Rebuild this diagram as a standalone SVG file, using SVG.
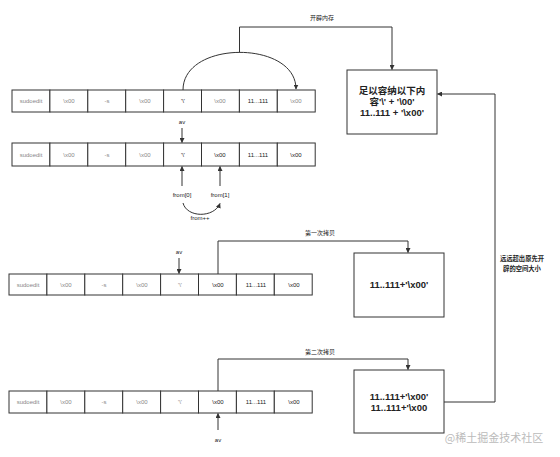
<svg xmlns="http://www.w3.org/2000/svg" width="560" height="457" viewBox="0 0 560 457">
<defs>
<style>
.cell{fill:#fff;stroke:#333;stroke-width:1}
.box{fill:#fff;stroke:#333;stroke-width:1}
.ln{fill:none;stroke:#333;stroke-width:1}
.t{font-family:"Liberation Sans","Noto Sans CJK SC",sans-serif;font-size:6px;text-anchor:middle;dominant-baseline:central;fill:#222}
.g{fill:#888}
.b{font-family:"Liberation Sans","Noto Sans CJK SC",sans-serif;font-size:9.5px;text-anchor:middle;dominant-baseline:central;fill:#222;font-weight:bold}
.s{font-family:"Liberation Sans","Noto Sans CJK SC",sans-serif;font-size:6px;text-anchor:middle;dominant-baseline:central;fill:#222}
.m{font-family:"Liberation Sans","Noto Sans CJK SC",sans-serif;font-size:6.3px;text-anchor:middle;dominant-baseline:central;fill:#222;font-weight:bold}
</style>
<marker id="ah" viewBox="0 0 10 10" refX="9" refY="5" markerWidth="5" markerHeight="5" orient="auto" markerUnits="userSpaceOnUse">
<path d="M0,0 L10,5 L0,10 z" fill="#333"/>
</marker>
</defs>
<rect width="560" height="457" fill="#fff"/>

<g id="row1">
<rect class="cell" x="12" y="90" width="37.9" height="22"/>
<rect class="cell" x="49.9" y="90" width="37.9" height="22"/>
<rect class="cell" x="87.8" y="90" width="37.9" height="22"/>
<rect class="cell" x="125.7" y="90" width="37.9" height="22"/>
<rect class="cell" x="163.6" y="90" width="37.9" height="22"/>
<rect class="cell" x="201.5" y="90" width="37.9" height="22"/>
<rect class="cell" x="239.4" y="90" width="37.9" height="22"/>
<rect class="cell" x="277.3" y="90" width="37.9" height="22"/>
<text class="t g" x="31" y="101">sudoedit</text>
<text class="t g" x="69" y="101">\x00</text>
<text class="t g" x="107" y="101">-s</text>
<text class="t g" x="145" y="101">\x00</text>
<text class="t" x="183" y="101">'\'</text>
<text class="t g" x="220" y="101">\x00</text>
<text class="t" x="258" y="101">11...111</text>
<text class="t g" x="296" y="101">\x00</text>
</g>

<g id="row2">
<rect class="cell" x="12" y="143" width="37.9" height="23"/>
<rect class="cell" x="49.9" y="143" width="37.9" height="23"/>
<rect class="cell" x="87.8" y="143" width="37.9" height="23"/>
<rect class="cell" x="125.7" y="143" width="37.9" height="23"/>
<rect class="cell" x="163.6" y="143" width="37.9" height="23"/>
<rect class="cell" x="201.5" y="143" width="37.9" height="23"/>
<rect class="cell" x="239.4" y="143" width="37.9" height="23"/>
<rect class="cell" x="277.3" y="143" width="37.9" height="23"/>
<text class="t g" x="31" y="154.5">sudoedit</text>
<text class="t g" x="69" y="154.5">\x00</text>
<text class="t g" x="107" y="154.5">-s</text>
<text class="t g" x="145" y="154.5">\x00</text>
<text class="t" x="183" y="154.5">'\'</text>
<text class="t" x="220" y="154.5">\x00</text>
<text class="t" x="258" y="154.5">11...111</text>
<text class="t" x="296" y="154.5">\x00</text>
</g>

<g id="row3">
<rect class="cell" x="9" y="274" width="37.9" height="21"/>
<rect class="cell" x="46.9" y="274" width="37.9" height="21"/>
<rect class="cell" x="84.8" y="274" width="37.9" height="21"/>
<rect class="cell" x="122.7" y="274" width="37.9" height="21"/>
<rect class="cell" x="160.6" y="274" width="37.9" height="21"/>
<rect class="cell" x="198.5" y="274" width="37.9" height="21"/>
<rect class="cell" x="236.4" y="274" width="37.9" height="21"/>
<rect class="cell" x="274.3" y="274" width="37.9" height="21"/>
<text class="t g" x="28" y="284.5">sudoedit</text>
<text class="t g" x="66" y="284.5">\x00</text>
<text class="t g" x="104" y="284.5">-s</text>
<text class="t g" x="142" y="284.5">\x00</text>
<text class="t g" x="180" y="284.5">'\'</text>
<text class="t" x="218" y="284.5">\x00</text>
<text class="t" x="256" y="284.5">11...111</text>
<text class="t" x="294" y="284.5">\x00</text>
</g>

<g id="row4">
<rect class="cell" x="9" y="391" width="37.9" height="22"/>
<rect class="cell" x="46.9" y="391" width="37.9" height="22"/>
<rect class="cell" x="84.8" y="391" width="37.9" height="22"/>
<rect class="cell" x="122.7" y="391" width="37.9" height="22"/>
<rect class="cell" x="160.6" y="391" width="37.9" height="22"/>
<rect class="cell" x="198.5" y="391" width="37.9" height="22"/>
<rect class="cell" x="236.4" y="391" width="37.9" height="22"/>
<rect class="cell" x="274.3" y="391" width="37.9" height="22"/>
<text class="t g" x="28" y="402">sudoedit</text>
<text class="t g" x="66" y="402">\x00</text>
<text class="t g" x="104" y="402">-s</text>
<text class="t g" x="142" y="402">\x00</text>
<text class="t g" x="180" y="402">'\'</text>
<text class="t" x="218" y="402">\x00</text>
<text class="t" x="256" y="402">11...111</text>
<text class="t" x="294" y="402">\x00</text>
</g>

<g id="boxA">
<rect class="box" x="347" y="70" width="90" height="64"/>
<text class="b" x="392" y="90">足以容纳以下内</text>
<text class="b" x="392" y="101">容'\' + '\00'</text>
<text class="b" x="392" y="112">11..111 + '\x00'</text>
</g>
<g id="boxB">
<rect class="box" x="354" y="253" width="90" height="64"/>
<text class="b" x="399" y="284">11..111+'\x00'</text>
</g>
<g id="boxC">
<rect class="box" x="354" y="370" width="90" height="63"/>
<text class="b" x="399" y="396">11..111+'\x00'</text>
<text class="b" x="399" y="407">11..111+'\x00</text>
</g>

<g id="connectors">
<path class="ln" d="M183,90 C183,40 296,40 296,89" marker-end="url(#ah)"/>
<path class="ln" d="M239.5,52.5 V27 H392 V69.5" marker-end="url(#ah)"/>
<path class="ln" d="M182,128 V142.5" marker-end="url(#ah)"/>
<path class="ln" d="M182,186 V166.5" marker-end="url(#ah)"/>
<path class="ln" d="M220,186 V166.5" marker-end="url(#ah)"/>
<path class="ln" d="M183,203 C187,218 214,218 220,203.5" marker-end="url(#ah)"/>
<path class="ln" d="M179,258 V273.5" marker-end="url(#ah)"/>
<path class="ln" d="M218,274 V241 H408 V252.5" marker-end="url(#ah)"/>
<path class="ln" d="M218,430 V413.5" marker-end="url(#ah)"/>
<path class="ln" d="M218,391 V359 H408 V369.5" marker-end="url(#ah)"/>
<path class="ln" d="M444,402 H495 V94 H437.5" marker-end="url(#ah)"/>
</g>

<g id="labels">
<text class="s" x="322" y="18">开辟内存</text>
<text class="s" x="182" y="122">av</text>
<text class="s" x="182" y="195">from[0]</text>
<text class="s" x="220" y="195">from[1]</text>
<text class="s" x="200" y="218">from++</text>
<text class="s" x="179" y="252">av</text>
<text class="s" x="320" y="233">第一次拷贝</text>
<text class="s" x="320" y="352">第二次拷贝</text>
<text class="s" x="218" y="440">av</text>
<text class="m" x="522" y="258.5">远远超出原先开</text>
<text class="m" x="522" y="268">辟的空间大小</text>
<text x="494" y="437" font-family="'Noto Sans CJK SC',sans-serif" font-size="11" text-anchor="middle" dominant-baseline="central" fill="#bbb">@稀土掘金技术社区</text>
</g>
</svg>
